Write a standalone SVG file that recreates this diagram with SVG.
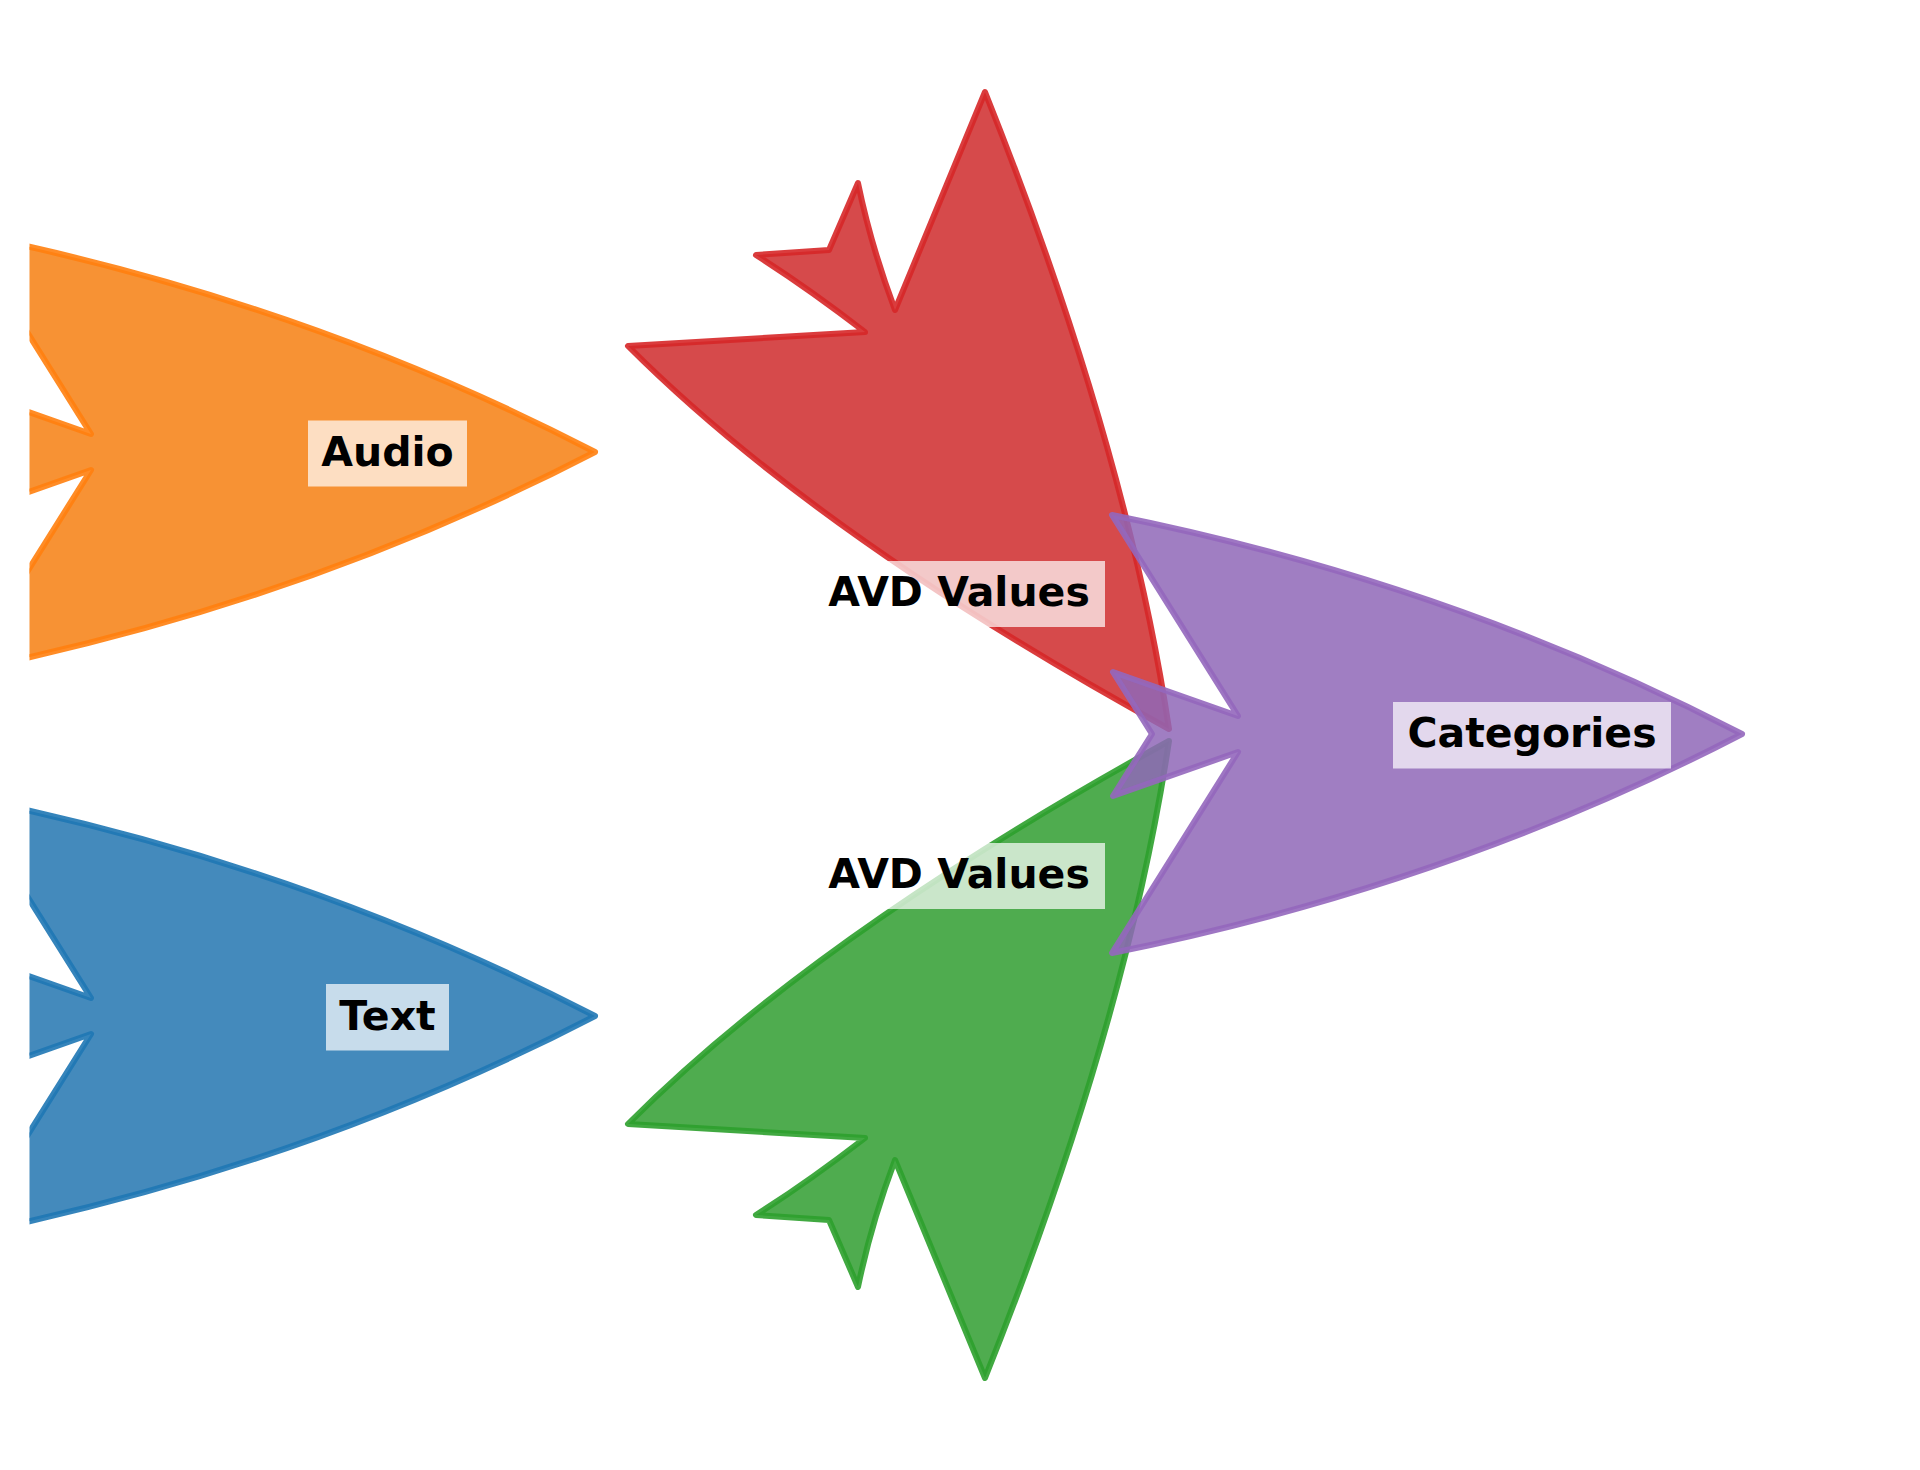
<svg xmlns="http://www.w3.org/2000/svg" xmlns:xlink="http://www.w3.org/1999/xlink" width="1920" height="1470" viewBox="0 0 1920 1470">
  <style>
    .flow { stroke-width: 6; stroke-linejoin: round; fill-opacity: 0.85; stroke-opacity: 0.9; }
    .orange { fill: #f67f10; stroke: #ff7f0e; }
    .blue { fill: #2375b0; stroke: #1f77b4; }
    .red { fill: #cf2a2c; stroke: #d62728; }
    .green { fill: #309d30; stroke: #2ca02c; }
    .purple { fill: #8f67b7; stroke: #9467bd; }
    .box { fill: #ffffff; fill-opacity: 0.7; stroke: none; }
    .lbl { font-family: "DejaVu Sans", "Liberation Sans", sans-serif; font-weight: bold; font-size: 41px; fill: #000000; text-anchor: middle; }
  </style>
  <defs>
    <path id="fish" d="M 1112,515 Q 1451,583 1742,734 Q 1451,885 1112,953 L 1238,752 L 1113,796 L 1152,734 L 1113,672 L 1238,716 Z"/>
    <path id="avd" d="M 628,346 L 865,332 Q 808,288 756,255 L 829,250 L 858,183 Q 871,246 895,310 L 985,92 Q 1126.5,446 1169,729 Q 818,536 628,346 Z"/>
    <clipPath id="axclip">
      <rect x="29.5" y="0" width="1890.5" height="1470"/>
    </clipPath>
  </defs>
  <rect x="0" y="0" width="1920" height="1470" fill="#ffffff"/>

  <g id="node-audio">
    <g clip-path="url(#axclip)">
      <use xlink:href="#fish" class="flow orange" transform="translate(-1147,-282)"/>
    </g>
    <rect class="box" x="308" y="420.5" width="159" height="66"/>
    <text class="lbl" x="387.5" y="466">Audio</text>
  </g>

  <g id="node-text">
    <g clip-path="url(#axclip)">
      <use xlink:href="#fish" class="flow blue" transform="translate(-1147,282)"/>
    </g>
    <rect class="box" x="326" y="984" width="123" height="66.5"/>
    <text class="lbl" x="387.5" y="1029.5">Text</text>
  </g>

  <g id="connectors">
    <g id="node-avd-audio">
      <use xlink:href="#avd" class="flow red"/>
      <rect class="box" x="813" y="561" width="292" height="66"/>
      <text class="lbl" x="959" y="606">AVD Values</text>
    </g>
    <g id="node-avd-text">
      <use xlink:href="#avd" class="flow green" transform="matrix(1,0,0,-1,0,1470)"/>
      <rect class="box" x="813" y="843" width="292" height="66"/>
      <text class="lbl" x="959" y="888">AVD Values</text>
    </g>
  </g>

  <g id="node-categories">
    <use xlink:href="#fish" class="flow purple"/>
    <rect class="box" x="1393" y="702" width="278" height="66.5"/>
    <text class="lbl" x="1532" y="747">Categories</text>
  </g>
</svg>
